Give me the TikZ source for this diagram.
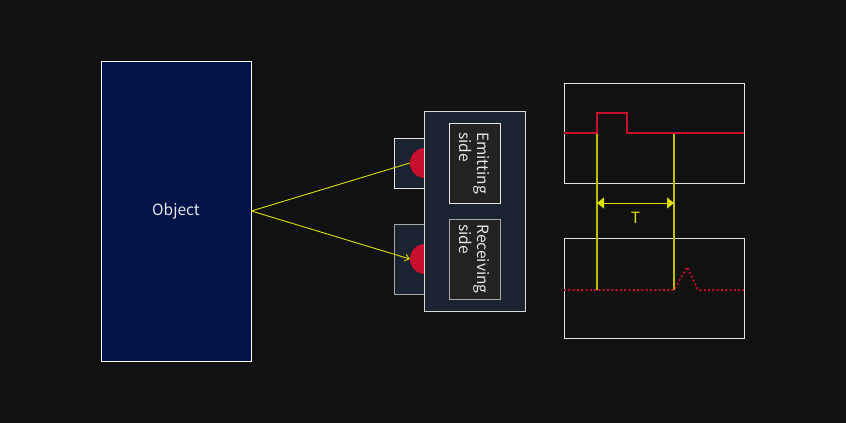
\documentclass[tikz,border=0pt]{standalone}
\usepackage{fontspec}
\setmainfont{Noto Sans CJK JP}
\usepackage{tikz}
\usetikzlibrary{arrows,arrows.meta,positioning,calc}
\usepackage{xcolor}
\definecolor{bgdark}{HTML}{111111}
\definecolor{objnavy}{HTML}{001348}
\definecolor{sensorfill}{HTML}{1B2230}
\definecolor{labelfill}{HTML}{222222}
\definecolor{sigred}{HTML}{C8102E}
\definecolor{rayyellow}{HTML}{DCE000}
\definecolor{markyellow}{HTML}{BEBE00}
\definecolor{txtgrey}{HTML}{E6E6E6}

\begin{document}
\begin{tikzpicture}[x=1pt, y=-1pt, font=\fontsize{15.5}{18}\selectfont]
  \fill[bgdark] (0,0) rectangle (846,423);
  \useasboundingbox (0,0) rectangle (846,423);
  \node[draw=white, fill=objnavy, line width=0.8pt, minimum width=150pt, minimum height=300pt, text=txtgrey]
    (obj) at (176,211) {Object};
  \node[draw=white!90!black, fill=sensorfill, line width=0.8pt, minimum width=31pt, minimum height=50pt]
    (emhold) at (409.5,163) {};
  \node[draw=white!65!black, fill=sensorfill, line width=0.8pt, minimum width=31pt, minimum height=70pt]
    (rchold) at (409.5,259) {};
  \node[circle, fill=sigred, minimum size=30pt, inner sep=0pt] (em) at (425,163) {};
  \node[circle, fill=sigred, minimum size=30pt, inner sep=0pt] (rc) at (425,259) {};
  \node[draw=white!85!black, fill=sensorfill, line width=0.8pt, minimum width=101pt, minimum height=200pt]
    (sensor) at (474.5,211) {};
  \node[draw=white!90!black, fill=labelfill, line width=0.8pt, rotate=-90, minimum width=80pt, minimum height=51pt,
    align=left, text=txtgrey] (emtxt) at (474.5,163) {Emitting\\side};
  \node[draw=white!65!black, fill=labelfill, line width=0.8pt, rotate=-90, minimum width=80pt, minimum height=51pt,
    align=left, text=txtgrey] (rctxt) at (474.5,259) {Receiving\\side};
  \draw[rayyellow, line width=0.9pt] (obj.east) -- (em.west);
  \draw[rayyellow, line width=0.9pt, -{Straight Barb[length=4pt,width=7pt]}] (obj.east) -- (rc.west);
  % scope screens
  \node[draw=white!90!black, line width=0.8pt, minimum width=180pt, minimum height=100pt] (scope1) at (654,133) {};
  \node[draw=white!90!black, line width=0.8pt, minimum width=180pt, minimum height=100pt] (scope2) at (654,288) {};
  \coordinate (rise) at (597,133);
  \coordinate (echo) at (674,133);
  \draw[markyellow, line width=1.3pt] (rise) -- (597,290);
  \draw[markyellow, line width=1.5pt] (echo) -- (674,290);
  \draw[sigred, line width=1.6pt] (scope1.west) -- (rise) -- (597,113) -- (627,113) -- (627,133) -- (scope1.east);
  \draw[sigred, line width=1.6pt, dash pattern=on 2pt off 2.3pt]
    (564,290) -- (674,290) -- (687,267) -- (698,290) -- (744,290);
  \draw[rayyellow, line width=1pt, {Triangle[length=7pt,width=11pt]}-{Triangle[length=7pt,width=11pt]}]
    ($(rise)+(0,70)$) -- ($(echo)+(0,70)$) node[midway, below=5pt, text=rayyellow] {T};
\end{tikzpicture}
\end{document}
